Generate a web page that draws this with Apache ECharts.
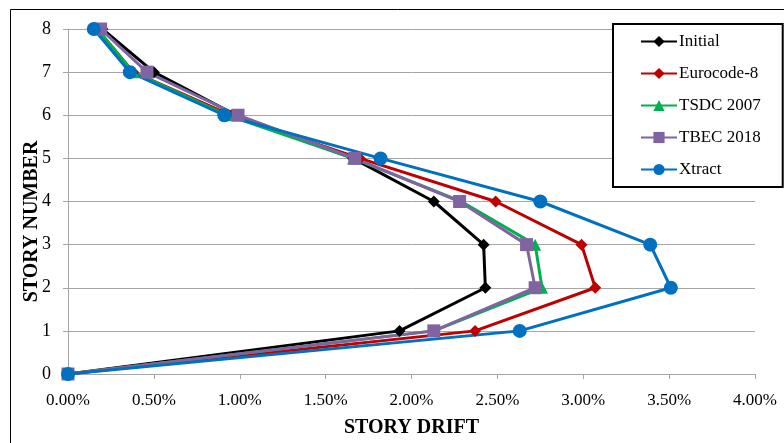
<!DOCTYPE html>
<html>
<head>
<meta charset="utf-8">
<script src="https://cdn.jsdelivr.net/npm/echarts@6/dist/echarts.min.js"></script>
<style>
  html, body { margin: 0; padding: 0; background: #fff; overflow: hidden; }
  #chart { width: 784px; height: 443px; }
</style>
</head>
<body>
<div id="chart"></div>
<script>
// Story levels (0 = base, 8 = roof)
const stories = [0, 1, 2, 3, 4, 5, 6, 7, 8];

// Inter-story drift ratios, in percent, for each story level
const driftInitial   = [0, 1.93, 2.43, 2.42, 2.13, 1.66, 0.98, 0.50, 0.20];
const driftEurocode8 = [0, 2.37, 3.07, 2.99, 2.49, 1.70, 0.95, 0.38, 0.17];
const driftTSDC2007  = [0, 2.13, 2.76, 2.72, 2.29, 1.66, 0.93, 0.38, 0.17];
const driftTBEC2018  = [0, 2.13, 2.72, 2.67, 2.28, 1.67, 0.99, 0.46, 0.19];
const driftXtract    = [0, 2.63, 3.51, 3.39, 2.75, 1.82, 0.91, 0.36, 0.15];

const seriesNames = ['Initial', 'Eurocode-8', 'TSDC 2007', 'TBEC 2018', 'Xtract'];
const xTicks = ['0.00%', '0.50%', '1.00%', '1.50%', '2.00%', '2.50%', '3.00%', '3.50%', '4.00%'];

const font = 'Liberation Serif';

function pairs(drift) {
  return drift.map((d, i) => [d, stories[i]]);
}

function mkSeries(name, drift, color, symbol, size) {
  return {
    name: name,
    type: 'line',
    data: pairs(drift),
    symbol: symbol,
    symbolSize: size,
    showAllSymbol: true,
    lineStyle: { color: color, width: 3 },
    itemStyle: { color: color },
    emphasis: { disabled: true },
    animation: false,
    z: 3
  };
}

const chart = echarts.init(document.getElementById('chart'), null, {
  renderer: 'canvas', width: 784, height: 443
});

chart.setOption({
  backgroundColor: '#ffffff',
  animation: false,
  textStyle: { fontFamily: font },
  grid: { left: 68, right: 29, top: 29, bottom: 69, containLabel: false },
  graphic: [{
    type: 'rect',
    shape: { x: 10.5, y: 9.5, width: 800, height: 500 },
    style: { fill: 'none', stroke: '#000', lineWidth: 1 },
    silent: true,
    z: -1
  }],
  xAxis: {
    type: 'value',
    min: 0, max: 4, interval: 0.5,
    axisLine: { show: true, lineStyle: { color: '#a6a6a6', width: 1 } },
    axisTick: { show: true, length: 5, lineStyle: { color: '#a6a6a6' } },
    splitLine: { show: false },
    axisLabel: {
      color: '#000', fontFamily: font, fontSize: 17, margin: 18,
      formatter: (v) => xTicks[Math.round(v / 0.5)]
    },
    name: 'STORY DRIFT',
    nameLocation: 'middle',
    nameGap: 44,
    nameTextStyle: { color: '#000', fontFamily: font, fontSize: 20, fontWeight: 'bold' }
  },
  yAxis: {
    type: 'value',
    min: 0, max: 8, interval: 1,
    axisLine: { show: true, lineStyle: { color: '#a6a6a6', width: 1 } },
    axisTick: { show: true, length: 5, lineStyle: { color: '#a6a6a6' } },
    splitLine: { show: true, lineStyle: { color: '#a6a6a6', width: 1 } },
    axisLabel: { color: '#000', fontFamily: font, fontSize: 18, margin: 17 },
    name: 'STORY NUMBER',
    nameLocation: 'middle',
    nameGap: 26,
    nameRotate: 90,
    nameMoveOverlap: false,
    nameTextStyle: {
      color: '#000', fontFamily: font, fontSize: 20, fontWeight: 'bold',
      padding: [0, 40, 0, 0]
    }
  },
  legend: {
    orient: 'vertical',
    left: 613, top: 24,
    data: seriesNames,
    itemWidth: 36, itemHeight: 14, itemGap: 15,
    padding: [9, 22, 9, 27],
    borderColor: '#000', borderWidth: 2,
    backgroundColor: '#fff',
    textStyle: { color: '#000', fontFamily: font, fontSize: 17, padding: [0, 0, 0, -3] },
    selectedMode: false,
    z: 10
  },
  series: [
    mkSeries('Initial', driftInitial, '#000000', 'diamond', 12),
    mkSeries('Eurocode-8', driftEurocode8, '#c00000', 'diamond', 12),
    mkSeries('TSDC 2007', driftTSDC2007, '#00b050', 'triangle', 12),
    mkSeries('TBEC 2018', driftTBEC2018, '#8064a2', 'rect', 13),
    mkSeries('Xtract', driftXtract, '#0070c0', 'circle', 14)
  ]
});
</script>
</body>
</html>
